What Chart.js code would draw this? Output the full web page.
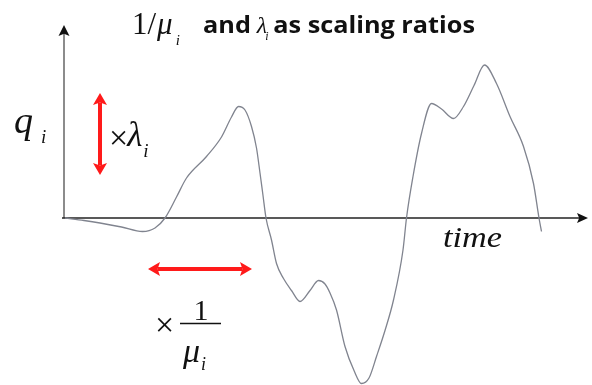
<!DOCTYPE html>
<html>
<head>
<meta charset="utf-8">
<script src="https://cdn.jsdelivr.net/npm/chart.js@4"></script>
<style>
  html, body { margin: 0; padding: 0; background: #fff; }
  #wrap { width: 592px; height: 385px; position: relative; }
</style>
</head>
<body>
<div id="wrap"><canvas id="myChart"></canvas></div>
<script>
// signal (time units, q units)
const timeValues = [0.02, 0.40, 0.72, 1.15, 1.57, 1.82, 2.02, 2.25, 2.45, 2.85, 3.15, 3.35, 3.49, 3.62, 3.75, 3.85, 3.92, 3.98, 4.04,
  4.15, 4.25, 4.39, 4.55, 4.72, 4.92, 5.09, 5.22, 5.32, 5.45, 5.62, 5.80, 5.95, 6.10, 6.25, 6.42, 6.59, 6.78, 6.85, 6.98,
  7.15, 7.35, 7.55, 7.79, 7.99, 8.20, 8.41, 8.65, 8.92, 9.19, 9.39, 9.50, 9.55];
const qValues = [0.00, -0.05, -0.10, -0.18, -0.27, -0.20, 0.00, 0.42, 0.80, 1.23, 1.62, 2.02, 2.23, 2.16, 1.83, 1.40, 0.90, 0.45, 0.00,
  -0.44, -0.91, -1.21, -1.45, -1.67, -1.45, -1.25, -1.32, -1.50, -1.84, -2.57, -3.05, -3.31, -3.20, -2.77, -2.25, -1.64, -0.64, 0.00, 0.83,
  1.69, 2.29, 2.18, 1.99, 2.23, 2.65, 3.06, 2.69, 2.03, 1.43, 0.69, 0.00, -0.27];

const axisEnd = { x: 10.48, y: 3.86 };
const lambdaArrow = { x: 0.72, y1: 2.50, y2: 0.86 };
const muArrow = { y: -1.02, x1: 1.68, x2: 3.76 };

const points = timeValues.map((t, i) => ({ x: t, y: qValues[i] }));

function arrowHead(ctx, x, y, angle, len, half, color) {
  ctx.save();
  ctx.translate(x, y);
  ctx.rotate(angle);
  ctx.fillStyle = color;
  ctx.beginPath();
  ctx.moveTo(0, 0);
  ctx.lineTo(-len, -half);
  ctx.lineTo(-len * 0.8, 0);
  ctx.lineTo(-len, half);
  ctx.closePath();
  ctx.fill();
  ctx.restore();
}

function redArrow(ctx, x1, y1, x2, y2) {
  const a = Math.atan2(y2 - y1, x2 - x1);
  const L = 12, dx = Math.cos(a) * L * 0.8, dy = Math.sin(a) * L * 0.8;
  ctx.save();
  ctx.strokeStyle = '#ff1a1a';
  ctx.lineWidth = 4;
  ctx.beginPath();
  ctx.moveTo(x1 + dx, y1 + dy);
  ctx.lineTo(x2 - dx, y2 - dy);
  ctx.stroke();
  ctx.restore();
  arrowHead(ctx, x2, y2, a, L, 7, '#ff1a1a');
  arrowHead(ctx, x1, y1, a + Math.PI, L, 7, '#ff1a1a');
}

function txt(ctx, s, x, y, font, color) {
  ctx.font = font;
  ctx.fillStyle = color || '#111';
  ctx.fillText(s, x, y);
  return x + ctx.measureText(s).width;
}

// draw text with a horizontal scale factor
function scaledTxt(ctx, s, x, y, font, k) {
  ctx.font = font;
  const w = ctx.measureText(s).width * k;
  ctx.save();
  ctx.translate(x, y);
  ctx.scale(k, 1);
  ctx.fillStyle = '#111';
  ctx.fillText(s, 0, 0);
  ctx.restore();
  return x + w;
}

const axesPlugin = {
  id: 'axes',
  beforeDatasetsDraw(chart) {
    const { ctx, scales: { x, y } } = chart;
    const x0 = x.getPixelForValue(0), y0 = y.getPixelForValue(0);
    const xe = x.getPixelForValue(axisEnd.x), ye = y.getPixelForValue(axisEnd.y);
    ctx.save();
    ctx.strokeStyle = '#666';
    ctx.lineWidth = 1.5;
    ctx.beginPath();
    ctx.moveTo(x0, y0);
    ctx.lineTo(x0, ye + 8);
    ctx.stroke();
    ctx.strokeStyle = '#222';
    ctx.beginPath();
    ctx.moveTo(x0 - 2, y0);
    ctx.lineTo(xe - 8, y0);
    ctx.stroke();
    ctx.restore();
    arrowHead(ctx, x0, ye, -Math.PI / 2, 11, 5.5, '#111');
    arrowHead(ctx, xe, y0, 0, 11, 5, '#111');
  },
  afterDraw(chart) {
    const { ctx, scales: { x, y } } = chart;
    redArrow(ctx, x.getPixelForValue(lambdaArrow.x), y.getPixelForValue(lambdaArrow.y1),
      x.getPixelForValue(lambdaArrow.x), y.getPixelForValue(lambdaArrow.y2));
    redArrow(ctx, x.getPixelForValue(muArrow.x1), y.getPixelForValue(muArrow.y),
      x.getPixelForValue(muArrow.x2), y.getPixelForValue(muArrow.y));

    ctx.save();
    ctx.textBaseline = 'alphabetic';
    const serif = '"Liberation Serif", "DejaVu Serif", serif';
    const sans = '"Open Sans", "Liberation Sans", sans-serif';

    // title
    let cx = txt(ctx, '1/', 132, 34, '31px ' + serif);
    cx = txt(ctx, 'μ', cx + 1, 34, 'italic 31px ' + serif);
    txt(ctx, 'i', cx + 3, 45, 'italic 15px ' + serif);
    const tFont = 'bold 23px ' + sans;
    ctx.font = tFont;
    const wAnd = ctx.measureText('and').width;
    const wRest = ctx.measureText('as scaling ratios').width;
    ctx.font = 'italic 24px ' + serif;
    const wLam = ctx.measureText('λ').width;
    const k = (475 - 203 - wLam - 12) / (wAnd + wRest);
    cx = scaledTxt(ctx, 'and', 203, 33, tFont, k);
    cx = txt(ctx, 'λ', cx + 6, 33, 'italic 24px ' + serif);
    txt(ctx, 'i', cx - 2, 40, 'italic 12px ' + serif);
    scaledTxt(ctx, 'as scaling ratios', cx + 6, 33, tFont, k);

    // q_i
    cx = txt(ctx, 'q', 14, 133, 'italic 38px ' + serif);
    txt(ctx, 'i', cx + 8, 143, 'italic 19px ' + serif);

    // x lambda
    cx = txt(ctx, '×', 109, 149, '34px ' + serif);
    cx = txt(ctx, 'λ', cx - 1, 146, 'italic 35px ' + serif);
    txt(ctx, 'i', cx + 1, 157, 'italic 19px ' + serif);

    // x 1/mu
    txt(ctx, '×', 155, 336, '34px ' + serif);
    ctx.textAlign = 'center';
    txt(ctx, '1', 201, 320, '30px ' + serif);
    ctx.textAlign = 'left';
    ctx.strokeStyle = '#111';
    ctx.lineWidth = 1.5;
    ctx.beginPath();
    ctx.moveTo(180, 323.5);
    ctx.lineTo(221, 323.5);
    ctx.stroke();
    cx = txt(ctx, 'μ', 183, 362, 'italic 34px ' + serif);
    txt(ctx, 'i', cx + 1, 370, 'italic 18px ' + serif);

    // time
    ctx.font = 'italic 30px ' + serif;
    scaledTxt(ctx, 'time', 443, 247, 'italic 30px ' + serif, 59 / ctx.measureText('time').width);
    ctx.restore();
  }
};

const config = {
  type: 'line',
  data: {
    datasets: [{
      data: points,
      borderColor: '#80848f',
      borderWidth: 1.3,
      pointRadius: 0,
      fill: false,
      cubicInterpolationMode: 'monotone'
    }]
  },
  options: {
    responsive: true,
    maintainAspectRatio: false,
    animation: false,
    layout: { padding: 0 },
    plugins: { legend: { display: false }, tooltip: { enabled: false } },
    scales: {
      x: { type: 'linear', display: false, min: -1.28, max: 10.56 },
      y: { type: 'linear', display: false, min: -3.34, max: 4.36 }
    }
  },
  plugins: [axesPlugin]
};

const myChart = new Chart(document.getElementById('myChart'), config);
</script>
</body>
</html>
